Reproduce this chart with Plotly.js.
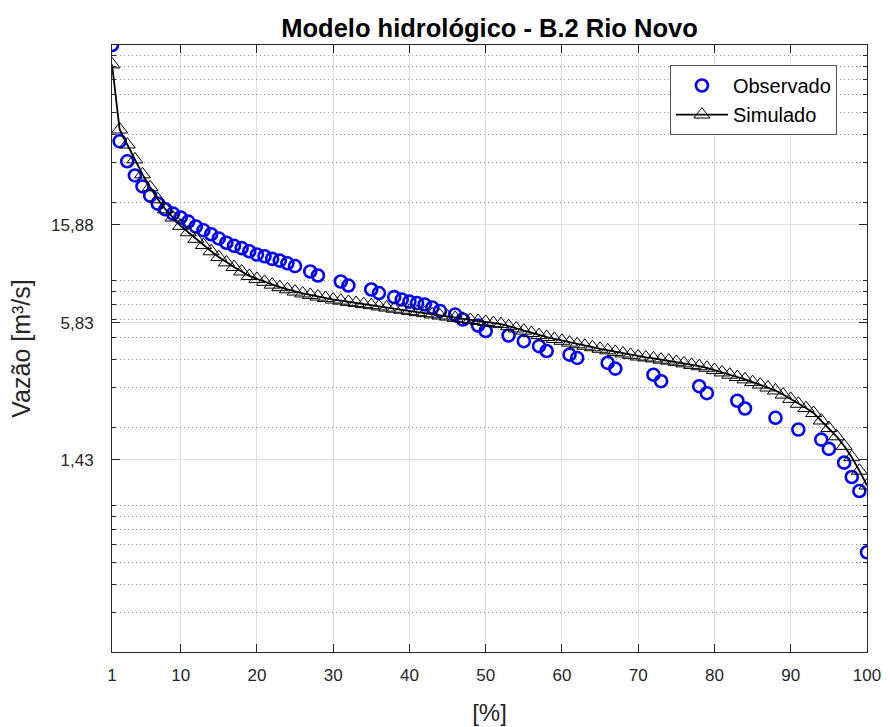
<!DOCTYPE html>
<html>
<head>
<meta charset="utf-8">
<script src="https://cdn.plot.ly/plotly-3.0.1.min.js"></script>
<style>html,body{margin:0;padding:0;background:#fff;}#chart{width:890px;height:727px;}</style>
</head>
<body>
<div id="chart"></div>
<script>
// Observed flow-duration points (percent of time exceeded, flow m3/s)
const obsPct = [1,2,3,4,5,6,7,8,9,10,11,12,13,14,15,16,17,18,19,20,21,22,23,24,25,27,28,31,32,35,36,38,39,40,41,42,43,44,46,47,49,50,53,55,57,58,61,62,66,67,72,73,78,79,83,84,88,91,94,95,97,98,99,100];
const obsQ = [100,37.3,30.4,26.3,23.5,21.4,19.7,18.6,17.8,17.1,16.4,15.6,15.0,14.4,13.8,13.2,12.8,12.5,12.1,11.7,11.5,11.2,11.0,10.7,10.4,9.84,9.44,8.88,8.52,8.18,7.89,7.57,7.38,7.23,7.12,7.02,6.80,6.57,6.33,6.02,5.66,5.35,5.11,4.82,4.58,4.36,4.20,4.06,3.86,3.64,3.42,3.20,3.04,2.83,2.62,2.42,2.20,1.95,1.76,1.60,1.39,1.20,1.04,0.555];

// Simulated flow-duration curve
const simPct = [1,2,3,4,5,6,7,8,9,10,11,12,13,14,15,16,17,18,19,20,21,22,23,24,25,26,27,28,29,30,31,32,33,34,35,36,37,38,39,40,41,42,43,44,45,46,47,48,49,50,51,52,53,54,55,56,57,58,59,60,61,62,63,64,65,66,67,68,69,70,71,72,73,74,75,76,77,78,79,80,81,82,83,84,85,86,87,88,89,90,91,92,93,94,95,96,97,98,99,100];
const simQ = [82.0,42.1,36.1,31.0,26.6,23.3,20.6,18.6,17.1,15.7,14.7,13.75,12.9,12.1,11.4,10.8,10.3,9.84,9.40,9.12,8.85,8.60,8.38,8.20,8.01,7.86,7.74,7.61,7.50,7.38,7.30,7.21,7.13,7.04,6.97,6.88,6.80,6.72,6.65,6.57,6.49,6.42,6.34,6.27,6.20,6.12,6.06,5.99,5.93,5.87,5.80,5.74,5.62,5.49,5.37,5.24,5.13,5.03,4.93,4.84,4.75,4.67,4.60,4.53,4.46,4.39,4.32,4.25,4.19,4.12,4.08,4.04,3.99,3.95,3.90,3.84,3.78,3.73,3.67,3.59,3.50,3.42,3.34,3.26,3.17,3.09,3.00,2.91,2.79,2.67,2.54,2.43,2.31,2.14,1.98,1.82,1.65,1.47,1.28,1.10];

// Axis ticks
const xTicks = [1,10,20,30,40,50,60,70,80,90,100];
const yTickVals = [1.43,5.83,15.88];
const yTickText = ['1,43','5,83','15,88'];
const yMinorVals = [0.3,0.4,0.5,0.6,0.7,0.8,0.9,2,3,4,5,6,7,8,9,20,30,40,50,60,70,80,90];

const FONT = 'Liberation Sans, Arial, Helvetica, sans-serif';
const AX = '#262626';
const yRange = [Math.log10(0.2), 2];

const traces = [
  // helper trace that only carries the minor-grid overlay axis
  {
    x: simPct, y: simQ, yaxis: 'y2', type: 'scatter', mode: 'lines',
    line: {color: 'rgba(0,0,0,0)', width: 0}, showlegend: false, hoverinfo: 'skip'
  },
  {
    x: obsPct, y: obsQ, name: 'Observado', type: 'scatter', mode: 'markers',
    marker: {symbol: 'circle-open', size: 12, color: '#0000ff', line: {width: 2.6}}
  },
  {
    x: simPct, y: simQ, name: 'Simulado', type: 'scatter', mode: 'lines+markers',
    line: {color: '#000000', width: 1.8},
    marker: {symbol: 'triangle-up-open', size: 14, color: '#000000', line: {width: 1}}
  }
];

const layout = {
  width: 890, height: 727,
  margin: {l: 112, r: 23, t: 45, b: 75, pad: 0},
  paper_bgcolor: '#ffffff', plot_bgcolor: '#ffffff',
  font: {family: FONT, color: AX},
  title: {
    text: '<b>Modelo hidrológico - B.2 Rio Novo</b>',
    font: {family: FONT, size: 25.5, color: '#000000'},
    xref: 'paper', x: 0.5, xanchor: 'center',
    yref: 'container', y: 0.962, yanchor: 'middle'
  },
  xaxis: {
    range: [1, 100], tickmode: 'array', tickvals: xTicks, ticktext: xTicks.map(String),
    ticks: 'inside', ticklen: 8, tickwidth: 1, tickcolor: AX,
    showline: true, linecolor: AX, linewidth: 1, mirror: 'ticks',
    showgrid: true, gridcolor: '#e0e0e0', gridwidth: 1, zeroline: false,
    tickfont: {family: FONT, size: 17, color: AX}, ticklabelstandoff: 8,
    title: {text: '[%]', font: {family: FONT, size: 24, color: AX}, standoff: 19}
  },
  yaxis: {
    type: 'log', range: yRange,
    tickmode: 'array', tickvals: yTickVals, ticktext: yTickText,
    ticks: 'inside', ticklen: 8, tickwidth: 1, tickcolor: AX,
    showline: true, linecolor: AX, linewidth: 1, mirror: 'ticks',
    showgrid: true, gridcolor: '#e0e0e0', gridwidth: 1, zeroline: false,
    tickfont: {family: FONT, size: 17, color: AX}, ticklabelstandoff: 14,
    title: {text: 'Vazão [m³/s]', font: {family: FONT, size: 25, color: AX}, standoff: 13}
  },
  yaxis2: {
    type: 'log', range: yRange, overlaying: 'y', side: 'left', anchor: 'x',
    tickmode: 'array', tickvals: yMinorVals, showticklabels: false,
    ticks: 'inside', ticklen: 4, tickwidth: 1, tickcolor: AX,
    showline: false, mirror: 'ticks',
    showgrid: true, gridcolor: '#9a9a9a', gridwidth: 1, griddash: '1px,3px', zeroline: false
  },
  legend: {
    x: 0.739, y: 0.967, xanchor: 'left', yanchor: 'top',
    bgcolor: '#ffffff', bordercolor: '#555555', borderwidth: 1,
    itemwidth: 52,
    font: {family: FONT, size: 20, color: '#000000'}
  },
  showlegend: true
};

Plotly.newPlot('chart', traces, layout, {displayModeBar: false, staticPlot: true});
</script>
</body>
</html>
